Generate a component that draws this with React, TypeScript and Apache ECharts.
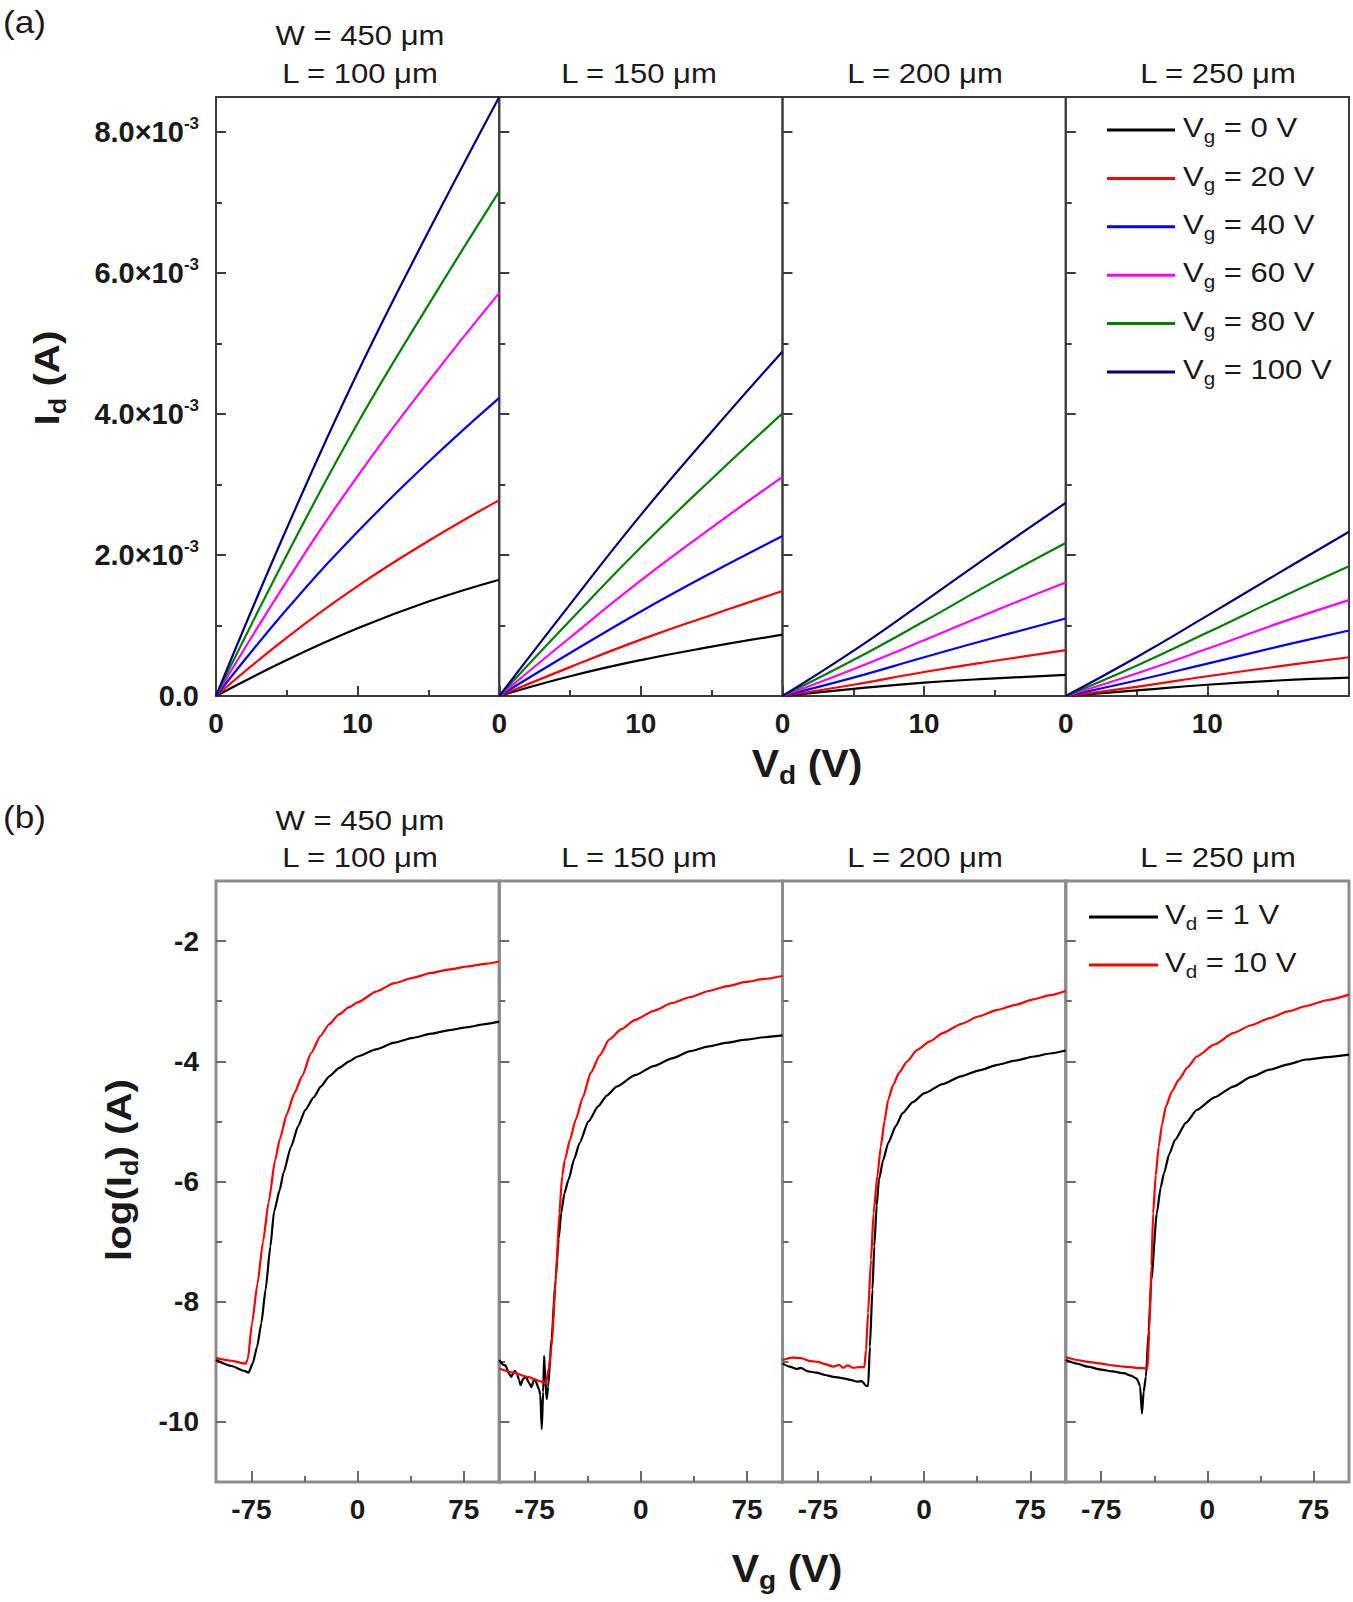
import React, { useEffect, useRef } from 'react';
import * as echarts from 'echarts';

// ---------- data: output curves (a) ----------
const VD = [0, 5, 10, 15, 20];
const VG_LABELS = ['0', '20', '40', '60', '80', '100'];
const VG_COLORS = ['#000000', '#ff0000', '#0000ff', '#ff00ff', '#008000', '#000080'];
const CHANNEL_L = ['100', '150', '200', '250'];

const ID_L100 = [
  [0, 0.51e-3, 0.96e-3, 1.34e-3, 1.65e-3],
  [0, 0.83e-3, 1.56e-3, 2.2e-3, 2.78e-3],
  [0, 1.23e-3, 2.33e-3, 3.32e-3, 4.23e-3],
  [0, 1.63e-3, 3.12e-3, 4.46e-3, 5.72e-3],
  [0, 2.0e-3, 3.87e-3, 5.55e-3, 7.16e-3],
  [0, 2.38e-3, 4.59e-3, 6.59e-3, 8.5e-3],
];
const ID_L150 = [
  [0, 0.28e-3, 0.51e-3, 0.7e-3, 0.87e-3],
  [0, 0.41e-3, 0.8e-3, 1.15e-3, 1.49e-3],
  [0, 0.61e-3, 1.2e-3, 1.75e-3, 2.27e-3],
  [0, 0.83e-3, 1.64e-3, 2.39e-3, 3.11e-3],
  [0, 1.07e-3, 2.11e-3, 3.08e-3, 4.01e-3],
  [0, 1.3e-3, 2.57e-3, 3.75e-3, 4.89e-3],
];
const ID_L200 = [
  [0, 0.1e-3, 0.19e-3, 0.25e-3, 0.3e-3],
  [0, 0.16e-3, 0.34e-3, 0.5e-3, 0.65e-3],
  [0, 0.26e-3, 0.55e-3, 0.83e-3, 1.1e-3],
  [0, 0.38e-3, 0.79e-3, 1.21e-3, 1.61e-3],
  [0, 0.51e-3, 1.06e-3, 1.63e-3, 2.17e-3],
  [0, 0.64e-3, 1.34e-3, 2.05e-3, 2.74e-3],
];
const ID_L250 = [
  [0, 0.08e-3, 0.16e-3, 0.22e-3, 0.26e-3],
  [0, 0.13e-3, 0.28e-3, 0.42e-3, 0.55e-3],
  [0, 0.22e-3, 0.46e-3, 0.7e-3, 0.93e-3],
  [0, 0.32e-3, 0.67e-3, 1.03e-3, 1.36e-3],
  [0, 0.43e-3, 0.9e-3, 1.38e-3, 1.84e-3],
  [0, 0.55e-3, 1.14e-3, 1.74e-3, 2.33e-3],
];
const ID_PANELS = [ID_L100, ID_L150, ID_L200, ID_L250];

// ---------- data: transfer curves (b), [Vg, log(Id)] ----------
const VD_LABELS = ['1', '10'];
const VD_COLORS = ['#000000', '#ff0000'];

const TR_L100_VD1 = [[-100,-8.97],[-89,-9.07],[-80,-9.15],[-77,-9.18],[-74,-9.02],[-71,-8.75],[-68,-8.36],[-65,-7.8],[-61.6,-7.08],[-59,-6.5],[-55,-6.14],[-52.4,-5.86],[-47,-5.42],[-42,-5.08],[-37,-4.81],[-31,-4.6],[-26,-4.42],[-20,-4.25],[-13,-4.11],[-6,-4.0],[0,-3.92],[13,-3.8],[26,-3.69],[39,-3.61],[52,-3.54],[65,-3.48],[78,-3.43],[90,-3.38],[100,-3.34]];
const TR_L100_VD10 = [[-100,-8.94],[-90,-8.98],[-79,-9.03],[-77.5,-8.95],[-74.6,-8.36],[-70.7,-7.7],[-66.8,-7.0],[-62.9,-6.35],[-58.2,-5.64],[-55,-5.3],[-50,-4.88],[-44.6,-4.53],[-39.3,-4.25],[-32.8,-3.86],[-26.3,-3.58],[-20,-3.38],[-13.2,-3.22],[-6,-3.1],[0,-3.02],[13,-2.84],[26,-2.7],[39,-2.61],[52,-2.53],[65,-2.47],[78,-2.42],[90,-2.38],[100,-2.34]];
const TR_L150_VD1 = [[-100,-8.97],[-97,-9.05],[-95.6,-9.06],[-93,-9.2],[-91.6,-9.25],[-89,-9.15],[-87.7,-9.19],[-86,-9.3],[-85,-9.39],[-83,-9.28],[-81.2,-9.25],[-79,-9.35],[-77.3,-9.42],[-75.5,-9.3],[-74.6,-9.31],[-72,-9.45],[-71,-9.55],[-70,-10.12],[-69,-9.5],[-68.3,-8.9],[-67.5,-9.3],[-66.5,-9.62],[-65.5,-9.42],[-63,-8.6],[-60.3,-7.64],[-58,-6.95],[-56.3,-6.53],[-54,-6.2],[-51.1,-5.97],[-47,-5.62],[-43.3,-5.36],[-37,-5.0],[-30.2,-4.75],[-24,-4.57],[-17.1,-4.42],[-4,-4.23],[9,-4.08],[22,-3.95],[35,-3.83],[48,-3.75],[61,-3.69],[74,-3.64],[87,-3.6],[100,-3.57]];
const TR_L150_VD10 = [[-100,-9.11],[-90,-9.18],[-80,-9.25],[-70,-9.33],[-67,-9.36],[-65,-9.1],[-63,-8.75],[-60,-7.6],[-57.6,-6.53],[-55.5,-5.9],[-53.7,-5.64],[-50,-5.3],[-46,-4.97],[-41,-4.6],[-35.4,-4.19],[-29,-3.9],[-22.4,-3.64],[-14,-3.47],[-4,-3.31],[9,-3.16],[22,-3.03],[35,-2.93],[48,-2.83],[61,-2.75],[74,-2.68],[87,-2.63],[100,-2.58]];
const TR_L200_VD1 = [[-100,-9.03],[-95,-9.08],[-90,-9.12],[-87,-9.1],[-82,-9.16],[-76,-9.18],[-70,-9.22],[-64,-9.25],[-58,-9.27],[-52,-9.3],[-47.3,-9.33],[-44,-9.32],[-41,-9.4],[-39.5,-9.4],[-38.3,-8.75],[-36.5,-7.8],[-35.2,-7.08],[-33.5,-6.4],[-31.9,-5.97],[-29,-5.65],[-25.4,-5.36],[-20,-5.08],[-15.2,-4.86],[-8,-4.68],[0.3,-4.53],[13,-4.38],[26,-4.25],[39,-4.15],[51.7,-4.06],[64,-3.99],[77.4,-3.92],[89,-3.87],[100,-3.82]];
const TR_L200_VD10 = [[-100,-8.97],[-93,-8.93],[-87,-8.94],[-80,-8.99],[-75,-9.0],[-70,-9.04],[-64,-9.08],[-60,-9.05],[-57,-9.1],[-54,-9.06],[-50,-9.1],[-46,-9.09],[-42.2,-9.09],[-41,-8.8],[-39.6,-8.19],[-37.5,-7.3],[-35.7,-6.53],[-33,-5.9],[-30.6,-5.42],[-28,-5.0],[-25.4,-4.64],[-22,-4.4],[-17.7,-4.19],[-12,-4.0],[-4.9,-3.81],[4,-3.67],[13.1,-3.53],[26,-3.38],[38.8,-3.25],[51,-3.15],[64.5,-3.06],[77,-2.97],[89,-2.9],[100,-2.83]];
const TR_L250_VD1 = [[-100,-8.97],[-92,-9.03],[-84.6,-9.08],[-75,-9.13],[-67,-9.16],[-58.9,-9.19],[-54,-9.23],[-49.9,-9.28],[-47.5,-9.4],[-46.2,-9.86],[-45,-9.5],[-43.4,-9.25],[-41.5,-8.5],[-39.6,-7.64],[-35.7,-6.53],[-33,-6.1],[-30.6,-5.86],[-27,-5.55],[-22.9,-5.31],[-15,-5.02],[-7.5,-4.81],[5,-4.6],[18.3,-4.42],[31,-4.26],[44,-4.14],[57,-4.05],[69.7,-3.97],[85,-3.93],[100,-3.89]];
const TR_L250_VD10 = [[-100,-8.92],[-92,-8.97],[-84.6,-9.0],[-75,-9.03],[-67,-9.06],[-58.9,-9.08],[-50,-9.1],[-42.2,-9.11],[-41,-8.47],[-39.5,-7.4],[-38.3,-6.53],[-36.5,-5.9],[-34.4,-5.42],[-32,-5.05],[-29.3,-4.75],[-25,-4.5],[-20.3,-4.31],[-14,-4.1],[-7.5,-3.92],[5,-3.72],[18.3,-3.53],[31,-3.4],[44,-3.28],[57,-3.17],[69.7,-3.08],[85,-2.98],[100,-2.89]];
const TR_PANELS = [
  [TR_L100_VD1, TR_L100_VD10],
  [TR_L150_VD1, TR_L150_VD10],
  [TR_L200_VD1, TR_L200_VD10],
  [TR_L250_VD1, TR_L250_VD10],
];

// ---------- ticks ----------
const VD_MAJOR = [0, 10, 20];
const VD_MINOR = [5, 15];
const VD_LABEL_TICKS = [0, 10];
const ID_MAJOR = [0, 2e-3, 4e-3, 6e-3, 8e-3];
const ID_MINOR = [1e-3, 3e-3, 5e-3, 7e-3];
const VG_MAJOR = [-75, 0, 75];
const VG_MINOR = [-37.5, 37.5];
const LOG_MAJOR = [-10, -8, -6, -4, -2];
const LOG_MINOR = [-9, -7, -5, -3];

const FONT = "'Liberation Sans', Arial, Helvetica, sans-serif";
const TXT = '#1a1a1a';

const LEFT0 = 216;
const PW = 283.25;
const TOP_A = 97;
const H_A = 599;
const TOP_B = 881;
const H_B = 601;

function axis(dim: 'x' | 'y', gridIndex: number, min: number, max: number, ticks: number[], len: number,
  color: string, width: number, labels: number[] | null, labelExtra: any = {}) {
  return {
    type: 'value',
    gridIndex,
    min,
    max,
    position: dim === 'x' ? 'bottom' : 'left',
    axisLine: { show: false, onZero: false },
    splitLine: { show: false },
    axisTick: { show: true, inside: true, length: len, customValues: ticks, lineStyle: { color, width } },
    axisLabel: labels
      ? { show: true, customValues: labels, color: TXT, fontFamily: FONT, fontWeight: 'bold', fontSize: 28, ...labelExtra }
      : { show: false },
  };
}

function idLabel(v: number) {
  if (v === 0) return '{m|0.0}';
  return `{m|${(v * 1e3).toFixed(1)}×10}{p|-3}`;
}

function richSub(main: number, sub: number, weight: string) {
  return {
    m: { fontSize: main, fontWeight: weight, fontFamily: FONT, fill: TXT, lineHeight: Math.round(main * 1.3), verticalAlign: 'middle' },
    s: { fontSize: sub, fontWeight: weight, fontFamily: FONT, fill: TXT, lineHeight: sub, verticalAlign: 'bottom' },
  };
}

function text(x: number, y: number, str: string, size: number, opts: any = {}) {
  return {
    type: 'text',
    x,
    y,
    scaleX: opts.scaleX ?? 1.15,
    rotation: opts.rotation ?? 0,
    style: {
      text: str,
      fontFamily: FONT,
      fontSize: size,
      fontWeight: opts.weight ?? 'normal',
      fill: TXT,
      align: opts.align ?? 'center',
      verticalAlign: 'middle',
      rich: opts.rich,
    },
  };
}

function buildOption() {
  const grid: any[] = [];
  const xAxis: any[] = [];
  const yAxis: any[] = [];
  const series: any[] = [];

  for (let p = 0; p < 4; p++) {
    grid.push({ left: LEFT0 + p * PW, top: TOP_A, width: PW, height: H_A, show: true, borderColor: '#3c3c3c', borderWidth: 2, backgroundColor: 'rgba(0,0,0,0)' });
  }
  for (let p = 0; p < 4; p++) {
    grid.push({ left: LEFT0 + p * PW, top: TOP_B, width: PW, height: H_B, show: true, borderColor: '#8c8c8c', borderWidth: 3, backgroundColor: 'rgba(0,0,0,0)' });
  }

  // (a) axes
  for (let p = 0; p < 4; p++) {
    xAxis.push(axis('x', p, 0, 20, VD_MAJOR, 10, '#3c3c3c', 2, VD_LABEL_TICKS, { margin: 13 }));
    xAxis.push(axis('x', p, 0, 20, VD_MINOR, 6, '#3c3c3c', 2, null));
    yAxis.push(axis('y', p, 0, 8.5e-3, ID_MAJOR, 10, '#3c3c3c', 2, p === 0 ? ID_MAJOR : null, {
      margin: 17,
      formatter: idLabel,
      rich: {
        m: { fontSize: 29, fontWeight: 'bold', fontFamily: FONT, color: TXT, lineHeight: 34, verticalAlign: 'middle' },
        p: { fontSize: 17, fontWeight: 'bold', fontFamily: FONT, color: TXT, lineHeight: 17, verticalAlign: 'top' },
      },
    }));
    yAxis.push(axis('y', p, 0, 8.5e-3, ID_MINOR, 6, '#3c3c3c', 2, null));
  }
  // (b) axes
  for (let p = 0; p < 4; p++) {
    const g = 4 + p;
    xAxis.push(axis('x', g, -100, 100, VG_MAJOR, 11, '#6a6a6a', 2, VG_MAJOR, { margin: 13 }));
    xAxis.push(axis('x', g, -100, 100, VG_MINOR, 6, '#6a6a6a', 2, null));
    yAxis.push(axis('y', g, -11, -1, LOG_MAJOR, 10, '#6a6a6a', 2, p === 0 ? LOG_MAJOR : null, { margin: 17 }));
    yAxis.push(axis('y', g, -11, -1, LOG_MINOR, 6, '#6a6a6a', 2, null));
  }

  for (let p = 0; p < 4; p++) {
    ID_PANELS[p].forEach((vals, k) => {
      series.push({
        type: 'line',
        name: `Vg = ${VG_LABELS[k]} V`,
        xAxisIndex: 2 * p,
        yAxisIndex: 2 * p,
        data: VD.map((v, i) => [v, vals[i]]),
        symbol: 'none',
        showSymbol: false,
        smooth: 0.45,
        lineStyle: { color: VG_COLORS[k], width: 2.2 },
        itemStyle: { color: VG_COLORS[k] },
      });
    });
  }
  for (let p = 0; p < 4; p++) {
    TR_PANELS[p].forEach((pts, k) => {
      series.push({
        type: 'line',
        name: `Vd = ${VD_LABELS[k]} V`,
        xAxisIndex: 2 * (4 + p),
        yAxisIndex: 2 * (4 + p),
        data: pts,
        symbol: 'none',
        showSymbol: false,
        smooth: 0.2,
        smoothMonotone: 'x',
        lineStyle: { color: VD_COLORS[k], width: 2.2 },
        itemStyle: { color: VD_COLORS[k] },
      });
    });
  }

  const graphic: any[] = [];
  const titleX = [360, 639, 925, 1218];
  graphic.push(text(3, 22, '(a)', 32, { align: 'left', scaleX: 1.1 }));
  graphic.push(text(3, 817, '(b)', 32, { align: 'left', scaleX: 1.1 }));
  [[36, 74], [821, 858]].forEach(([yw, yl]) => {
    graphic.push(text(titleX[0], yw, 'W = 450 μm', 27));
    CHANNEL_L.forEach((l, i) => graphic.push(text(titleX[i], yl, `L = ${l} μm`, 27)));
  });
  const nameRich = richSub(38, 26, 'bold');
  graphic.push(text(807, 764, '{m|V}{s|d}{m| (V)}', 38, { rich: nameRich, scaleX: 1.08, weight: 'bold' }));
  graphic.push(text(787, 1569, '{m|V}{s|g}{m| (V)}', 38, { rich: nameRich, scaleX: 1.08, weight: 'bold' }));
  const yNameRich = richSub(36, 24, 'bold');
  graphic.push(text(46, 378, '{m|I}{s|d}{m| (A)}', 36, { rich: yNameRich, scaleX: 1.12, rotation: Math.PI / 2, weight: 'bold' }));
  graphic.push(text(118, 1170, '{m|log(I}{s|d}{m|) (A)}', 36, { rich: yNameRich, scaleX: 1.12, rotation: Math.PI / 2, weight: 'bold' }));

  const legRich = richSub(27, 18, 'normal');
  VG_LABELS.forEach((lab, k) => {
    const y = 130 + k * 48.4;
    graphic.push({ type: 'line', shape: { x1: 1107, y1: y, x2: 1175, y2: y }, style: { stroke: VG_COLORS[k], lineWidth: 3 } });
    graphic.push(text(1183, y - 2, `{m|V}{s|g}{m| = ${lab} V}`, 27, { align: 'left', rich: legRich }));
  });
  VD_LABELS.forEach((lab, k) => {
    const y = 917 + k * 48;
    graphic.push({ type: 'line', shape: { x1: 1089, y1: y, x2: 1158, y2: y }, style: { stroke: VD_COLORS[k], lineWidth: 3 } });
    graphic.push(text(1165, y - 2, `{m|V}{s|d}{m| = ${lab} V}`, 27, { align: 'left', rich: legRich }));
  });

  return {
    animation: false,
    backgroundColor: '#ffffff',
    grid,
    xAxis,
    yAxis,
    series,
    graphic,
  };
}

export default function App() {
  const ref = useRef<HTMLDivElement>(null);
  useEffect(() => {
    document.body.style.margin = '0';
    const chart = echarts.init(ref.current as HTMLDivElement, null, { renderer: 'svg' });
    chart.setOption(buildOption() as any);
    return () => chart.dispose();
  }, []);
  return <div ref={ref} style={{ width: 1353, height: 1602 }} />;
}
